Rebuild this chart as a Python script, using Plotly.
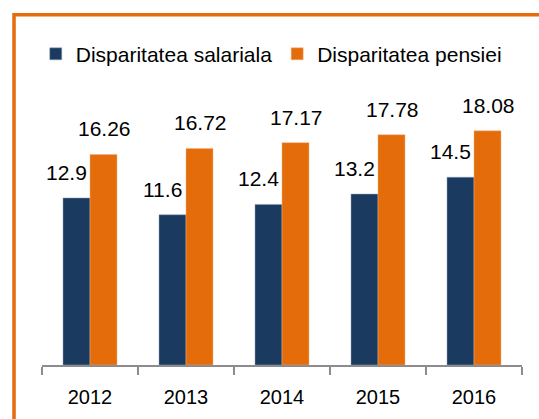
import plotly.graph_objects as go

years = ["2012", "2013", "2014", "2015", "2016"]
salariala = [12.9, 11.6, 12.4, 13.2, 14.5]
pensiei = [16.26, 16.72, 17.17, 17.78, 18.08]
series_names = ["Disparitatea salariala", "Disparitatea pensiei"]

NAVY = "#1B3A5F"
ORANGE = "#E46C0A"
FONT = "Liberation Sans, Arial, sans-serif"

fig = go.Figure()
fig.add_trace(go.Bar(x=years, y=salariala, name=series_names[0],
                     marker=dict(color=NAVY, line=dict(color="#8FA3BC", width=0.5))))
fig.add_trace(go.Bar(x=years, y=pensiei, name=series_names[1],
                     marker=dict(color=ORANGE, line=dict(color="#F4B183", width=0.5))))

annotations = []
for i, v in enumerate(salariala):
    annotations.append(dict(x=i, y=v, xref="x", yref="y", text=f"{v:g}", showarrow=False,
                            yanchor="bottom", xshift=-24, yshift=12,
                            font=dict(family=FONT, size=21, color="#000000")))
for i, v in enumerate(pensiei):
    annotations.append(dict(x=i, y=v, xref="x", yref="y", text=f"{v:.2f}", showarrow=False,
                            yanchor="bottom", xshift=14, yshift=12,
                            font=dict(family=FONT, size=21, color="#000000")))

fig.update_layout(
    width=539, height=419,
    margin=dict(l=42, r=17, t=106, b=54, autoexpand=False),
    paper_bgcolor="white", plot_bgcolor="white",
    barmode="group", bargap=0.4375, bargroupgap=0,
    font=dict(family=FONT, size=20, color="#000000"),
    showlegend=True,
    legend=dict(orientation="h", x=-0.013, xanchor="left", y=1.2, yanchor="middle",
                font=dict(family=FONT, size=21, color="#000000"),
                itemwidth=30, bgcolor="rgba(0,0,0,0)"),
    annotations=annotations,
    shapes=[dict(type="rect", xref="paper", yref="paper",
                 x0=-0.0583, x1=2, y0=-1, y1=1.3524,
                 line=dict(color=ORANGE, width=3.5), fillcolor="rgba(0,0,0,0)", layer="above")],
)
fig.update_xaxes(type="category", range=[-0.5, len(years) - 0.5],
                 showline=True, linecolor="#8C8C8C", linewidth=1.5,
                 ticks="outside", tickson="boundaries", ticklen=8, tickcolor="#8C8C8C", tickwidth=1.5,
                 tickfont=dict(family=FONT, size=20, color="#000000"), showgrid=False,
                 tickangle=0, automargin=False, ticklabelstandoff=13)
fig.update_yaxes(visible=False, range=[0, 20], showgrid=False, zeroline=False)

fig.write_html("out.html", post_script="document.body.style.margin='0';",
               config={"displayModeBar": False})
